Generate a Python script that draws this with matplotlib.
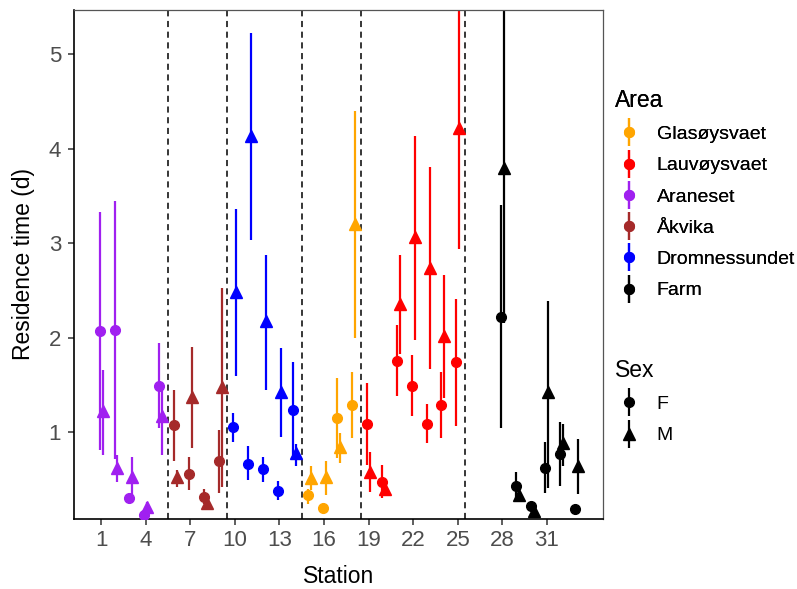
import numpy as np
import matplotlib.pyplot as plt
from matplotlib.lines import Line2D

plt.rcParams['font.family'] = ['Liberation Sans', 'DejaVu Sans']

# ---------- data ----------
stations = [1, 2, 3, 4, 5, 6, 7, 8, 9, 10, 11, 12, 13, 14, 15, 16, 17, 18,
            19, 20, 21, 22, 23, 24, 25, 28, 29, 30, 31, 32, 33]
areas = (["Araneset"] * 5 + ["Åkvika"] * 4 + ["Dromnessundet"] * 5 +
         ["Glasøysvaet"] * 4 + ["Lauvøysvaet"] * 7 + ["Farm"] * 6)

f_mean = [2.07, 2.08, 0.30, 0.12, 1.49, 1.07, 0.56, 0.31, 0.69, 1.05, 0.66, 0.61,
          0.38, 1.23, 0.33, 0.20, 1.15, 1.29, 1.09, 0.47, 1.75, 1.49, 1.09, 1.29,
          1.74, 2.22, 0.43, 0.22, 0.62, 0.77, 0.19]
f_lo = [0.81, 0.71, 0.27, 0.10, 1.04, 0.69, 0.39, 0.24, 0.36, 0.89, 0.49, 0.47,
        0.28, 0.76, 0.24, 0.19, 0.73, 0.94, 0.65, 0.30, 1.38, 1.17, 0.88, 0.94,
        1.06, 1.04, 0.28, 0.20, 0.35, 0.43, 0.18]
f_hi = [3.33, 3.45, 0.32, 0.14, 1.94, 1.45, 0.74, 0.40, 1.02, 1.20, 0.85, 0.74,
        0.48, 1.74, 0.40, 0.21, 1.57, 1.64, 1.52, 0.65, 2.13, 1.82, 1.30, 1.64,
        2.41, 3.40, 0.58, 0.24, 0.90, 1.11, 0.21]

m_mean = [1.22, 0.62, 0.52, 0.21, 1.17, 0.52, 1.37, 0.25, 1.48, 2.48, 4.13, 2.17,
          1.42, 0.78, 0.51, 0.52, 0.84, 3.20, 0.58, 0.40, 2.36, 3.06, 2.74, 2.02,
          4.22, 3.79, 0.33, 0.16, 1.42, 0.88, 0.64]
m_lo = [0.76, 0.47, 0.30, 0.13, 0.76, 0.42, 0.83, 0.22, 0.42, 1.59, 3.03, 1.45,
        0.95, 0.64, 0.39, 0.33, 0.67, 2.00, 0.37, 0.33, 1.83, 1.97, 1.67, 1.36,
        2.94, 2.15, 0.27, 0.13, 0.41, 0.64, 0.34]
m_hi = [1.66, 0.76, 0.74, 0.26, 1.49, 0.60, 1.90, 0.28, 2.52, 3.36, 5.22, 2.87,
        1.89, 0.87, 0.64, 0.69, 0.99, 4.40, 0.79, 0.48, 2.87, 4.13, 3.80, 2.66,
        5.70, 5.60, 0.40, 0.18, 2.39, 1.09, 0.93]

area_order = ["Glasøysvaet", "Lauvøysvaet", "Araneset", "Åkvika", "Dromnessundet", "Farm"]
area_colors = {"Glasøysvaet": "#FFA500", "Lauvøysvaet": "#FF0000", "Araneset": "#A020F0",
               "Åkvika": "#A52A2A", "Dromnessundet": "#0000FF", "Farm": "#000000"}
dividers = [5.5, 9.5, 14.5, 18.5, 25.5]

DODGE = 0.1


def pointrange(ax, x, y, lo, hi, color, marker, ms):
    ax.vlines(x, lo, hi, color=color, lw=1.6, zorder=2)
    ax.plot(x, y, linestyle="none", marker=marker, color=color, ms=ms, zorder=3)


def main():
    fig = plt.figure(figsize=(7.97, 5.89), dpi=100)
    ax = fig.add_axes([73.5 / 797, 1 - 519 / 589, (603.4 - 73.5) / 797, 509 / 589])

    st = np.array(stations, dtype=float)
    ar = np.array(areas)
    for area in area_order:
        idx = ar == area
        c = area_colors[area]
        pointrange(ax, st[idx] - DODGE, np.array(f_mean)[idx], np.array(f_lo)[idx],
                   np.array(f_hi)[idx], c, "o", 7)
        pointrange(ax, st[idx] + DODGE, np.array(m_mean)[idx], np.array(m_lo)[idx],
                   np.array(m_hi)[idx], c, "^", 8)

    for d in dividers:
        ax.axvline(d, color="black", lw=1.1, ls=(0, (4, 3)), zorder=1)

    ax.set_xlim(-0.86, 34.8)
    ax.set_ylim(0.08, 5.466)
    ax.set_xticks(range(1, 32, 3))
    ax.set_yticks([1, 2, 3, 4, 5])
    ax.tick_params(labelsize=16, labelcolor="#4D4D4D", color="#333333",
                   length=4, width=1.1, direction="out")
    ax.tick_params(axis="y", pad=5)
    ax.tick_params(axis="x", pad=4)
    ax.set_xlabel("Station", fontsize=16.5, labelpad=10)
    ax.set_ylabel("Residence time (d)", fontsize=16.5, labelpad=10)
    for side in ["left", "bottom"]:
        ax.spines[side].set_color("black")
        ax.spines[side].set_linewidth(1.2)
    for side in ["top", "right"]:
        ax.spines[side].set_color("#555555")
        ax.spines[side].set_linewidth(0.9)

    # ---------- legends ----------
    area_handles = []
    for area in area_order:
        c = area_colors[area]
        area_handles.append((Line2D([], [], marker="|", ms=20, mew=1.6, color=c, ls="none"),
                             Line2D([], [], marker="o", ms=7, color=c, ls="none")))
    leg1 = fig.legend(area_handles, area_order, title="Area", loc="upper left",
                      bbox_to_anchor=(615 / 797, 1 - 89 / 589), frameon=False,
                      fontsize=14, title_fontsize=16.5, alignment="left", borderpad=0,
                      borderaxespad=0, handlelength=1.43, handletextpad=0.72,
                      labelspacing=0.7)
    fig.add_artist(leg1)

    sex_handles = [(Line2D([], [], marker="|", ms=20, mew=1.6, color="black", ls="none"),
                    Line2D([], [], marker=m, ms=s, color="black", ls="none"))
                   for m, s in [("o", 7), ("^", 8)]]
    fig.legend(sex_handles, ["F", "M"], title="Sex", loc="upper left",
               bbox_to_anchor=(615 / 797, 1 - 359 / 589), frameon=False,
               fontsize=14, title_fontsize=16.5, alignment="left", borderpad=0,
               borderaxespad=0, handlelength=1.43, handletextpad=0.72,
               labelspacing=0.7)

    fig.savefig("out.png", dpi=100)
    plt.close(fig)


if __name__ == "__main__":
    main()
